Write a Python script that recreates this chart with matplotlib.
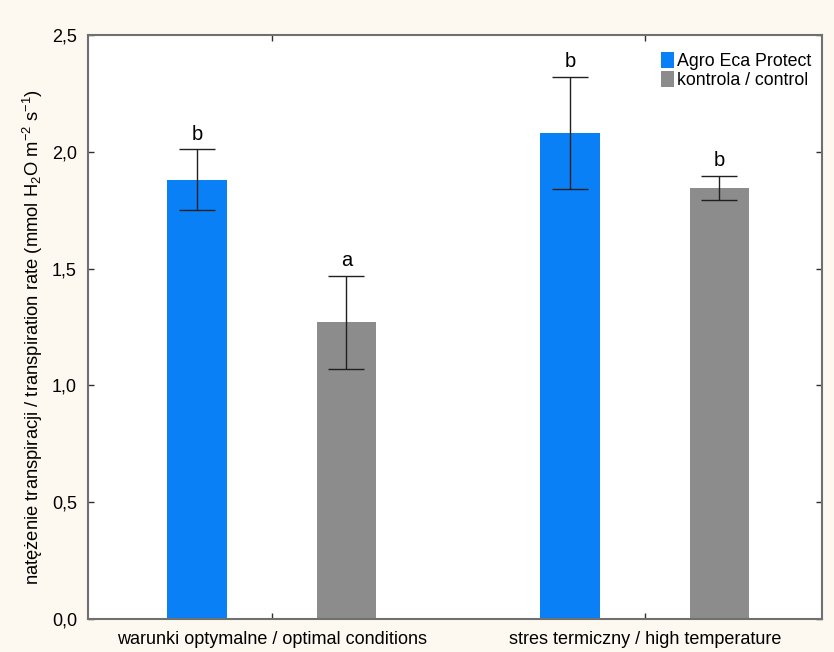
import matplotlib
matplotlib.use("Agg")
import matplotlib.pyplot as plt
import numpy as np

plt.rcParams['font.family'] = ['Liberation Sans', 'DejaVu Sans']
plt.rcParams['mathtext.fontset'] = 'custom'
plt.rcParams['mathtext.rm'] = 'Liberation Sans'
plt.rcParams['mathtext.it'] = 'Liberation Sans'
plt.rcParams['mathtext.default'] = 'regular'

categories = ["warunki optymalne / optimal conditions", "stres termiczny / high temperature"]
series_names = ["Agro Eca Protect", "kontrola / control"]
agro_mean = [1.88, 2.08]
agro_err = [0.13, 0.24]
control_mean = [1.27, 1.845]
control_err = [0.20, 0.05]
agro_letters = ["b", "b"]
control_letters = ["a", "b"]
y_ticks = [0.0, 0.5, 1.0, 1.5, 2.0, 2.5]

blue = "#0A80F6"
grey = "#8C8C8C"
bg = "#FDF9F0"
frame = "#707070"

fig = plt.figure(figsize=(8.34, 6.52), dpi=100, facecolor=bg)
ax = fig.add_axes([88 / 834, 1 - 619 / 652, (822 - 88) / 834, (619 - 35) / 652])
ax.set_facecolor("white")

x = np.arange(len(categories))
offset = 0.2
width = 0.16

err_kw = dict(ecolor="#202020", elinewidth=1.0, capsize=13, capthick=1.0)
ax.bar(x - offset, agro_mean, width, color=blue, label=series_names[0],
       yerr=agro_err, error_kw=err_kw, zorder=2)
ax.bar(x + offset, control_mean, width, color=grey, label=series_names[1],
       yerr=control_err, error_kw=err_kw, zorder=2)

for xi, m, e, t in zip(x - offset, agro_mean, agro_err, agro_letters):
    ax.text(xi, m + e + 0.025, t, ha="center", va="bottom", fontsize=14.5)
for xi, m, e, t in zip(x + offset, control_mean, control_err, control_letters):
    ax.text(xi, m + e + 0.025, t, ha="center", va="bottom", fontsize=14.5)

ax.set_xlim(-0.493, 1.475)
ax.set_ylim(0, 2.5)
ax.set_xticks(x)
ax.set_xticklabels(categories, fontsize=13)
ax.set_yticks(y_ticks)
ax.set_yticklabels([f"{v:.1f}".replace(".", ",") for v in y_ticks], fontsize=13)

ax.tick_params(axis="both", direction="in", length=4, width=1.0, color="#303030",
               top=True, right=True, pad=8)
ax.tick_params(axis="x", pad=9)
for s in ax.spines.values():
    s.set_color(frame)
    s.set_linewidth(1.5)

ax.set_ylabel(r"natężenie transpiracji / transpiration rate (mmol H$_2$O m$^{-2}$ s$^{-1}$)",
              fontsize=13.2)
ax.yaxis.set_label_coords(-0.058, 0.483)

leg = ax.legend(loc="upper right", frameon=False, fontsize=12.8, handlelength=0.75,
                handleheight=1.05, handletextpad=0.15, labelspacing=0.05,
                borderaxespad=0.2, bbox_to_anchor=(1.0, 0.99))

fig.savefig("out.png", dpi=100, facecolor=bg)
